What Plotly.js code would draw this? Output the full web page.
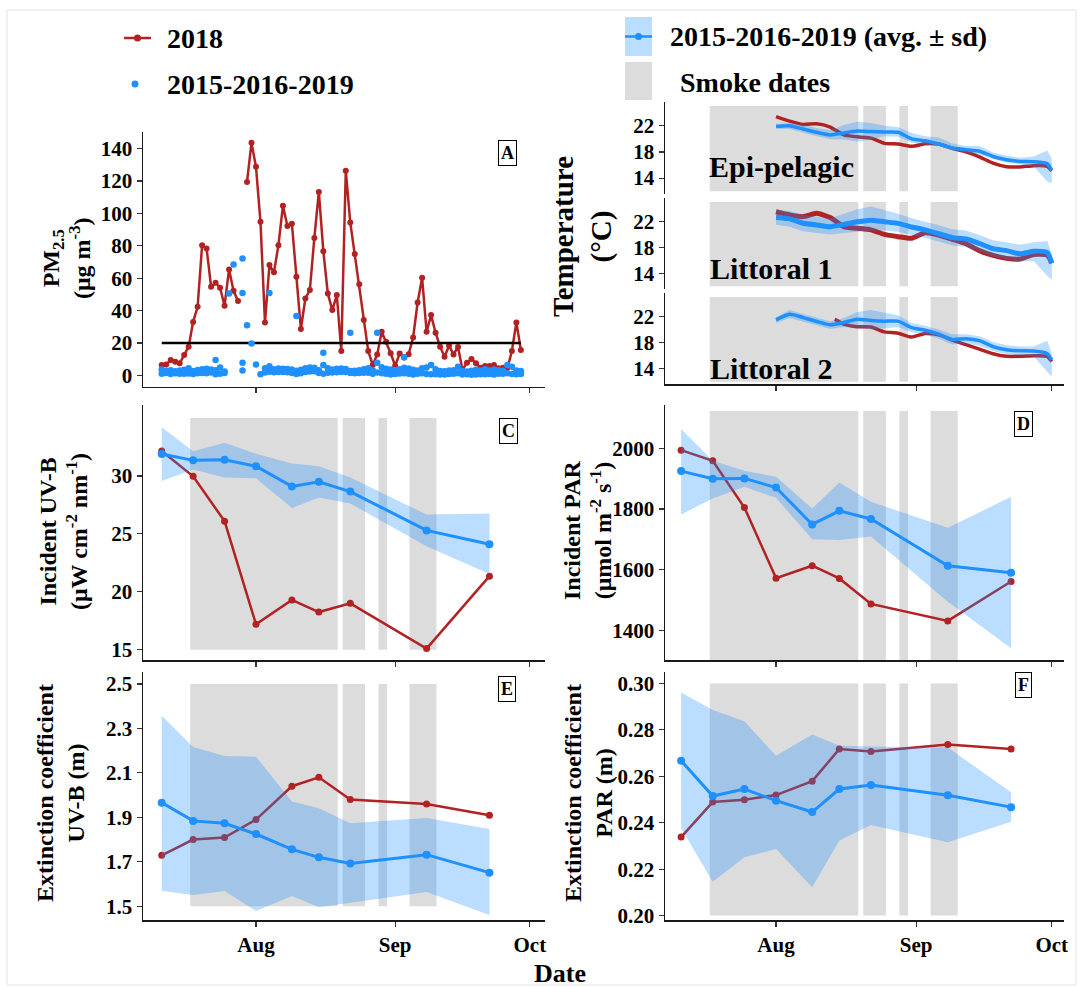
<!DOCTYPE html>
<html><head><meta charset="utf-8">
<script src="https://cdn.plot.ly/plotly-3.0.1.min.js"></script>
<style>html,body{margin:0;padding:0;background:#fff}#chart{width:1084px;height:987px}</style>
</head><body><div id="chart"></div>
<script>
// ---------------- DATA ----------------
// Panel A: PM2.5 daily (2018 from 2018-07-11 to 2018-09-29)
const pmStart = '2018-07-11';
const pm2018 = [6.4,6.7,9.4,8.4,7.4,12.5,17.7,33,42.3,80.4,78.4,54.7,57.2,54.1,43,65.4,52.2,45.9,null,119.5,143.6,
  128.8,94.8,32.7,68.1,63.6,80.4,104.7,92.3,93.6,60.9,28.6,47.5,52.7,84.9,113.3,76.7,50.6,40.3,49.6,15,126.4,94.4,74.9,56.2,34.1,15,6.4,12.9,26.9,20.7,13.6,
  5.9,13.4,11,13,23.4,45,60.3,26.9,37.2,26.3,17.7,11.5,18.3,12.9,17.5,3.3,7.8,10.1,7.4,4.7,5.7,5.7,6.4,4.3,4.7,4.3,15,32.7,15.6];
const pmOtherLow = [1.0,1.5,0.8,1.2,1.0,0.9,1.1,0.8,1.3,1.5,1.2,1.8,0.6,1.0,1.4,
  null,null,null,null,null,null,null,0.6,
  1.8,2.2,1.9,2.0,2.1,1.9,1.4,0.8,1.2,2.0,2.3,2.5,1.5,1.0,1.6,1.7,1.9,2.0,2.0,1.5,1.2,1.5,1.6,1.6,1.0,1.8,1.3,0.9,0.5,
  0.8,1.1,1.2,0.9,0.5,1.0,1.2,0.8,0.6,0.7,0.5,0.5,0.8,0.9,1.2,0.5,0.6,0.4,0.5,0.7,0.6,0.8,0.5,1.0,0.9,1.2,0.8,0.6,0.8];
const pmOtherHigh = [3.6,2.8,3.2,2.5,3.0,3.4,4.3,2.6,3.3,3.8,4.0,3.6,3.1,4.8,2.4,
  null,null,null,null,null,null,null,null,
  4.3,5.6,3.8,4.2,4.0,3.9,3.6,2.8,3.5,4.4,4.8,4.6,3.2,6.4,4.4,3.6,4.0,4.2,3.9,2.6,2.8,3.1,3.7,4.4,3.2,7.8,4.9,4.0,3.6,
  3.3,3.8,4.6,4.2,3.4,2.9,4.4,4.8,6.4,3.8,2.6,2.5,3.0,3.2,5.3,2.7,2.4,2.8,3.4,3.0,3.7,2.9,3.6,3.1,2.8,6.4,5.3,3.0,2.6];
const pmOtherExtraDates = ['2018-07-23','2018-07-26','2018-07-27','2018-07-29','2018-07-29','2018-07-29','2018-07-29','2018-07-30','2018-07-31','2018-08-01','2018-08-04','2018-08-10','2018-08-16','2018-08-22','2018-08-28','2018-09-03'];
const pmOtherExtraVals  = [9.4,50.6,68.5,72.2,50.8,7.8,2.9,31,19.7,6.7,50.8,36.6,14,26.3,26.3,11.1];
const pmThreshold = 20;

// Smoke periods
const smokeStart = ['2018-07-17 08:24','2018-08-20 07:12','2018-08-28 07:12','2018-09-04 04:48'];
const smokeEnd   = ['2018-08-19 04:48','2018-08-25 07:12','2018-08-30 04:48','2018-09-10 04:48'];

// Panel B: temperature
const tDates = ['2018-08-01','2018-08-04','2018-08-07','2018-08-10','2018-08-13','2018-08-16','2018-08-19','2018-08-22','2018-08-25','2018-08-28','2018-08-31','2018-09-03','2018-09-06','2018-09-09','2018-09-12','2018-09-15','2018-09-18','2018-09-21','2018-09-24','2018-09-27','2018-09-30','2018-10-01'];
const epi2018 = [23.4,22.7,22.2,22.3,21.8,20.6,20.3,20.1,19.3,19.2,18.85,19.25,19.2,18.55,18.0,17.25,16.3,15.75,15.7,15.9,15.8,15.1];
const epiAvg  = [21.9,22.0,21.5,21.0,20.6,20.9,21.2,21.1,21.05,21.0,20.0,19.7,19.2,18.6,18.35,18.1,17.3,16.8,16.55,16.5,16.2,15.2];
const epiHi   = [22.3,22.4,22.15,21.65,21.3,22.1,22.6,22.4,22.0,21.8,20.9,20.4,20.2,19.3,18.9,18.9,17.9,17.4,17.1,17.3,18.2,17.0];
const epiLo   = [21.5,21.5,20.9,20.4,19.95,19.9,19.6,19.9,20.4,20.3,19.4,19.1,18.9,18.2,17.9,17.6,16.9,16.4,16.1,15.8,13.5,13.2];
const lit1_2018 = [23.5,23.0,22.75,23.25,22.6,21.2,20.95,20.7,20.0,19.65,19.4,20.25,19.9,19.25,18.55,17.5,16.75,16.3,16.2,16.9,16.8,15.55];
const lit1Avg = [22.6,22.4,21.72,21.46,21.2,21.55,21.95,22.2,21.95,21.7,21.15,20.7,20.1,19.5,19.3,18.6,17.8,17.5,17.0,17.4,17.2,15.55];
const lit1Hi  = [23.8,23.6,23.0,22.7,22.5,23.2,23.9,24.3,23.8,23.2,22.5,22.0,21.4,20.8,20.6,19.9,19.1,18.8,18.4,18.8,19.0,17.0];
const lit1Lo  = [21.5,21.2,20.5,20.2,20.0,20.2,20.4,20.6,20.6,20.4,19.9,19.5,18.9,18.3,18.1,17.4,16.6,16.2,15.8,15.9,13.6,13.0];
const lit2RedDates = ['2018-08-14','2018-08-16','2018-08-19','2018-08-22','2018-08-25','2018-08-28','2018-08-31','2018-09-03','2018-09-06','2018-09-09','2018-09-12','2018-09-15','2018-09-18','2018-09-21','2018-09-24','2018-09-27','2018-09-30','2018-10-01'];
const lit2_2018 = [21.6,20.85,20.45,20.4,19.65,19.45,18.85,19.4,19.2,18.4,17.7,17.0,16.3,15.9,15.9,16.0,15.9,15.1];
const lit2Avg = [21.5,22.35,21.85,21.25,20.75,21.1,21.6,21.4,21.3,21.3,20.3,19.9,19.3,18.5,18.6,18.3,17.4,16.9,16.75,16.7,16.3,15.35];
const lit2Hi  = [21.9,23.0,22.4,21.8,21.3,21.8,22.7,23.0,22.6,22.2,21.0,20.6,20.0,19.3,19.3,19.0,18.1,17.6,17.4,17.4,18.3,16.3];
const lit2Lo  = [21.0,21.8,21.3,20.7,20.1,20.4,20.3,20.0,20.2,20.4,19.6,19.2,18.6,17.7,17.9,17.5,16.7,16.2,16.1,15.9,13.5,12.8];
const facetNames = ['Epi-pelagic','Littoral 1','Littoral 2'];

// Panels C-F: sampling dates
const wkDates = ['2018-07-11','2018-07-18','2018-07-25','2018-08-01','2018-08-09','2018-08-15','2018-08-22','2018-09-08','2018-09-22'];
const uvb2018 = [32.16,29.97,26.1,17.2,19.3,18.25,19.0,15.1,21.35];
const uvbAvg  = [31.9,31.35,31.4,30.84,29.1,29.5,28.65,25.3,24.1];
const uvbHi   = [34.2,32.13,32.88,31.93,31.07,30.84,29.86,26.67,26.76];
const uvbLo   = [29.57,30.55,29.86,29.8,27.24,28.14,27.62,23.94,21.53];
const par2018 = [1994,1959,1805,1572,1613,1571,1487,1431,1561];
const parAvg  = [1925,1900,1901,1871,1749,1794,1767,1613,1590];
const parHi   = [2064,1959,1926,1906,1802,1887,1824,1738,1840];
const parLo   = [1782,1835,1873,1837,1700,1698,1709,1494,1341];
const kdUV2018 = [1.729,1.80,1.809,1.89,2.04,2.08,1.98,1.96,1.909];
const kdUVAvg  = [1.966,1.884,1.873,1.825,1.756,1.720,1.692,1.732,1.651];
const kdUVHi   = [2.357,2.217,2.176,2.173,1.971,1.941,1.873,1.897,1.848];
const kdUVLo   = [1.57,1.551,1.569,1.479,1.546,1.495,1.513,1.564,1.461];
const kdPAR2018 = [0.2338,0.2489,0.2499,0.2519,0.2579,0.2717,0.2707,0.2737,0.2717];
const kdPARAvg  = [0.2667,0.2515,0.2545,0.2495,0.2446,0.2545,0.2562,0.2518,0.2467];
const kdPARHi   = [0.2961,0.2885,0.2837,0.2688,0.278,0.2731,0.2728,0.2724,0.2531];
const kdPARLo   = [0.2376,0.2146,0.2251,0.2287,0.2122,0.2323,0.239,0.2316,0.2404];

const monthTicks = ['2018-08-01','2018-09-01','2018-10-01'];
const monthLabels = ['Aug','Sep','Oct'];

// ---------------- HELPERS ----------------
const W = 1084, H = 987;
const px = v => v / W, py = v => 1 - v / H;
const RED = '#B22222', BLUE = '#1E90FF', RIB = 'rgba(30,144,255,0.3)', GREY = '#DCDCDC';
const SERIF = 'Liberation Serif, Times New Roman, serif';
const TF = {family: SERIF, size: 21, color: '#000', weight: 'bold'};
const LEFT = [143, 545], RIGHT = [665, 1064];
const xRangeL = ['2018-07-06 20:00', '2018-10-04 09:00'];
const xRangeR = ['2018-07-07 10:30', '2018-10-03 17:00'];

function dayList(start, n) {
  const out = []; const d0 = new Date(start + 'T00:00:00Z');
  for (let i = 0; i < n; i++) { const d = new Date(d0.getTime() + i * 86400000); out.push(d.toISOString().slice(0, 10)); }
  return out;
}
const pmDates = dayList(pmStart, pm2018.length);

function mkX(dom, range, anchor, showLine, labels) {
  return {domain: [px(dom[0]), px(dom[1])], range: range, type: 'date', anchor: anchor,
    showline: showLine, linecolor: '#1a1a1a', linewidth: 1.5, ticks: showLine ? 'outside' : '', ticklen: 5, tickwidth: 1.2, tickcolor: '#333',
    tickmode: 'array', tickvals: monthTicks, ticktext: monthLabels, showticklabels: labels, tickfont: TF,
    showgrid: false, zeroline: false, fixedrange: true};
}
function mkY(dom, range, anchor, vals, fmt) {
  return {domain: [py(dom[1]), py(dom[0])], range: range, anchor: anchor,
    showline: true, linecolor: '#1a1a1a', linewidth: 1.5, ticks: 'outside', ticklen: 5, tickwidth: 1.2, tickcolor: '#333',
    tickmode: 'array', tickvals: vals, tickformat: fmt || '', tickfont: TF,
    showgrid: false, zeroline: false, fixedrange: true};
}

const layout = {
  width: W, height: H, margin: {l: 0, r: 0, t: 0, b: 0}, showlegend: false,
  paper_bgcolor: '#fff', plot_bgcolor: 'rgba(0,0,0,0)',
  xaxis:  mkX(LEFT,  xRangeL, 'y',  true, false),
  yaxis:  mkY(LEFT,  [-7.04, 150.5], 'x', [0,20,40,60,80,100,120,140]),
  xaxis2: mkX(RIGHT, xRangeR, 'y2', false, false),
  yaxis2: mkY(RIGHT, [11.65, 25.7], 'x2', [14,18,22]),
  xaxis3: mkX(RIGHT, xRangeR, 'y3', false, false),
  yaxis3: mkY(RIGHT, [11.65, 25.7], 'x3', [14,18,22]),
  xaxis4: mkX(RIGHT, xRangeR, 'y4', true, false),
  yaxis4: mkY(RIGHT, [11.65, 25.7], 'x4', [14,18,22]),
  xaxis5: mkX(LEFT,  xRangeL, 'y5', true, false),
  yaxis5: mkY(LEFT,  [14.11, 36.13], 'x5', [15,20,25,30]),
  xaxis6: mkX(RIGHT, xRangeR, 'y6', true, false),
  yaxis6: mkY(RIGHT, [1302, 2143], 'x6', [1400,1600,1800,2000]),
  xaxis7: mkX(LEFT,  xRangeL, 'y7', true, true),
  yaxis7: mkY(LEFT,  [1.438, 2.554], 'x7', [1.5,1.7,1.9,2.1,2.3,2.5], '.1f'),
  xaxis8: mkX(RIGHT, xRangeR, 'y8', true, true),
  yaxis8: mkY(RIGHT, [0.1981, 0.3049], 'x8', [0.20,0.22,0.24,0.26,0.28,0.30], '.2f'),
  shapes: [], annotations: []
};
// fix y domains (mkY used dom of x by mistake) -> set explicitly
const yDoms = {yaxis:[131.7,386.7], yaxis2:[101.5,193.5], yaxis3:[197.5,288.5], yaxis4:[292.5,384], yaxis5:[405,660], yaxis6:[405,660], yaxis7:[672,920], yaxis8:[672,920]};
for (const k in yDoms) layout[k].domain = [py(yDoms[k][1]), py(yDoms[k][0])];

// smoke rectangles
const rectPanels = [['x2','y2',12,25],['x3','y3',12,25],['x4','y4',12,25],['x5','y5',15,35],['x6','y6',1300,2123],['x7','y7',1.5,2.5],['x8','y8',0.2,0.3]];
rectPanels.forEach(p => {
  for (let i = 0; i < smokeStart.length; i++) {
    layout.shapes.push({type: 'rect', xref: p[0], yref: p[1], x0: smokeStart[i], x1: smokeEnd[i], y0: p[2], y1: p[3], fillcolor: GREY, line: {width: 0}, layer: 'below'});
  }
});

const traces = [];
// Panel A
traces.push({x: pmDates, y: pm2018, xaxis: 'x', yaxis: 'y', mode: 'lines+markers', line: {color: RED, width: 2.5}, marker: {color: RED, size: 6}, connectgaps: false});
traces.push({x: [pmDates[0], pmDates[pmDates.length - 1]], y: [pmThreshold, pmThreshold], xaxis: 'x', yaxis: 'y', mode: 'lines', line: {color: '#000', width: 2.5}});
traces.push({x: pmDates, y: pmOtherLow, xaxis: 'x', yaxis: 'y', mode: 'markers', marker: {color: BLUE, size: 6.5}});
traces.push({x: pmDates, y: pmOtherHigh, xaxis: 'x', yaxis: 'y', mode: 'markers', marker: {color: BLUE, size: 6.5}});
traces.push({x: pmOtherExtraDates, y: pmOtherExtraVals, xaxis: 'x', yaxis: 'y', mode: 'markers', marker: {color: BLUE, size: 6.5}});

// Panel B facets
function ribbon(dates, hi, lo, xa, ya) {
  return {x: dates.concat(dates.slice().reverse()), y: hi.concat(lo.slice().reverse()), xaxis: xa, yaxis: ya,
    mode: 'lines', fill: 'toself', fillcolor: RIB, line: {width: 0, color: 'rgba(0,0,0,0)'}, hoverinfo: 'skip'};
}
const facets = [
  {xa: 'x2', ya: 'y2', rd: tDates, r: epi2018, a: epiAvg, hi: epiHi, lo: epiLo, w: 3.5},
  {xa: 'x3', ya: 'y3', rd: tDates, r: lit1_2018, a: lit1Avg, hi: lit1Hi, lo: lit1Lo, w: 5},
  {xa: 'x4', ya: 'y4', rd: lit2RedDates, r: lit2_2018, a: lit2Avg, hi: lit2Hi, lo: lit2Lo, w: 3.5}
];
facets.forEach(f => {
  traces.push({x: f.rd, y: f.r, xaxis: f.xa, yaxis: f.ya, mode: 'lines', line: {color: RED, width: f.w, shape: 'spline', smoothing: 0.6}});
  traces.push(ribbon(tDates, f.hi, f.lo, f.xa, f.ya));
  traces.push({x: tDates, y: f.a, xaxis: f.xa, yaxis: f.ya, mode: 'lines', line: {color: BLUE, width: f.w, shape: 'spline', smoothing: 0.6}});
});

// Panels C-F
const weekly = [
  {xa: 'x5', ya: 'y5', r: uvb2018, a: uvbAvg, hi: uvbHi, lo: uvbLo},
  {xa: 'x6', ya: 'y6', r: par2018, a: parAvg, hi: parHi, lo: parLo},
  {xa: 'x7', ya: 'y7', r: kdUV2018, a: kdUVAvg, hi: kdUVHi, lo: kdUVLo},
  {xa: 'x8', ya: 'y8', r: kdPAR2018, a: kdPARAvg, hi: kdPARHi, lo: kdPARLo}
];
weekly.forEach(p => {
  traces.push({x: wkDates, y: p.r, xaxis: p.xa, yaxis: p.ya, mode: 'lines+markers', line: {color: RED, width: 2.5}, marker: {color: RED, size: 7}});
  traces.push(ribbon(wkDates, p.hi, p.lo, p.xa, p.ya));
  traces.push({x: wkDates, y: p.a, xaxis: p.xa, yaxis: p.ya, mode: 'lines+markers', line: {color: BLUE, width: 3}, marker: {color: BLUE, size: 8}});
});

// ---------------- ANNOTATIONS ----------------
const A = layout.annotations;
function txt(t, x, y, size, opts) {
  A.push(Object.assign({text: t, x: px(x), y: py(y), xref: 'paper', yref: 'paper', showarrow: false,
    font: {family: SERIF, size: size, color: '#000', weight: 'bold'}, xanchor: 'center', yanchor: 'middle'}, opts || {}));
}
// axis titles
txt('PM<sub>2.5</sub><br>(μg m<sup>-3</sup>)', 66, 258, 24, {textangle: -90});
txt('Temperature<br>(°C)', 583, 237, 29, {textangle: -90});
txt('Incident UV-B<br>(μW cm<sup>-2</sup> nm<sup>-1</sup>)', 63, 532, 24, {textangle: -90});
txt('Incident PAR<br>(μmol m<sup>-2</sup> s<sup>-1</sup>)', 587, 530, 24, {textangle: -90});
txt('Extinction coefficient<br>UV-B (m)', 60, 793, 24, {textangle: -90});
txt('Extinction coefficient<br>PAR (m)', 588, 793, 24, {textangle: -90});
txt('Date', 560, 973, 26);
// facet labels
txt(facetNames[0], 707, 166, 30, {xanchor: 'left'});
txt(facetNames[1], 708, 268, 30, {xanchor: 'left'});
txt(facetNames[2], 708, 368, 30, {xanchor: 'left'});
// panel letters
[['A', 507, 153], ['C', 508, 431], ['D', 1023, 424], ['E', 507, 689], ['F', 1023, 685]].forEach(l => {
  txt(l[0], l[1], l[2], 18, {bordercolor: '#000', borderwidth: 1, borderpad: 2, bgcolor: '#fff'});
});
// legend
txt('2018', 165, 38, 28, {xanchor: 'left'});
txt('2015-2016-2019', 165, 84, 28, {xanchor: 'left'});
txt('2015-2016-2019 (avg. ± sd)', 668, 37, 28, {xanchor: 'left'});
txt('Smoke dates', 678, 82, 28, {xanchor: 'left'});
const S = layout.shapes;
S.push({type: 'line', xref: 'paper', yref: 'paper', x0: px(124), x1: px(151), y0: py(38), y1: py(38), line: {color: RED, width: 2.5}});
S.push({type: 'circle', xref: 'paper', yref: 'paper', x0: px(134), x1: px(141), y0: py(34.5), y1: py(41.5), fillcolor: RED, line: {width: 0}});
S.push({type: 'circle', xref: 'paper', yref: 'paper', x0: px(131.5), x1: px(138.5), y0: py(80.5), y1: py(87.5), fillcolor: BLUE, line: {width: 0}});
S.push({type: 'rect', xref: 'paper', yref: 'paper', x0: px(625), x1: px(652), y0: py(17), y1: py(56), fillcolor: RIB, line: {width: 0}});
S.push({type: 'line', xref: 'paper', yref: 'paper', x0: px(625), x1: px(652), y0: py(36.5), y1: py(36.5), line: {color: BLUE, width: 2.5}});
S.push({type: 'circle', xref: 'paper', yref: 'paper', x0: px(635), x1: px(642), y0: py(33), y1: py(40), fillcolor: BLUE, line: {width: 0}});
S.push({type: 'rect', xref: 'paper', yref: 'paper', x0: px(625), x1: px(652), y0: py(62), y1: py(100), fillcolor: GREY, line: {width: 0}});
S.push({type: 'rect', xref: 'paper', yref: 'paper', x0: px(7), x1: px(1076), y0: py(10), y1: py(985), fillcolor: 'rgba(0,0,0,0)', line: {color: '#e3e3e3', width: 1}});

Plotly.newPlot('chart', traces, layout, {displayModeBar: false, staticPlot: true});
</script></body></html>
